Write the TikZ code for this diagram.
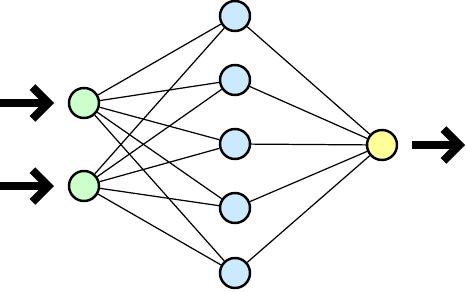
\documentclass[tikz,border=0pt]{standalone}
\usetikzlibrary{arrows.meta}

\definecolor{ingreen}{RGB}{204,255,204}
\definecolor{hidblue}{RGB}{204,234,255}
\definecolor{outyellow}{RGB}{255,255,153}

\tikzset{
    neuron/.style={circle, draw=black, line width=1.4pt, minimum size=0.6cm, inner sep=0pt},
    link/.style={line width=0.7pt},
    bigarrow/.style={line width=4.6pt, -{Straight Barb[length=9pt, width=18pt, line width=4.6pt]}}
}

\begin{document}
\begin{tikzpicture}[x=0.02cm, y=0.02cm]
    \useasboundingbox (0,0) rectangle (466,291);

    % Input layer
    \node[neuron, fill=ingreen] (in1) at (84,188) {};
    \node[neuron, fill=ingreen] (in2) at (84,105) {};

    % Hidden layer
    \foreach \i/\y in {1/275, 2/211, 3/147, 4/83, 5/18}
        \node[neuron, fill=hidblue] (h\i) at (235,\y) {};

    % Output layer
    \node[neuron, fill=outyellow] (out) at (382,146) {};

    % Connections
    \foreach \i in {1,...,5} {
        \draw[link] (in1) -- (h\i);
        \draw[link] (in2) -- (h\i);
        \draw[link] (h\i) -- (out);
    }

    % Input and output arrows
    \coordinate (a1s) at (0,188);
    \coordinate (a1e) at (54,188);
    \coordinate (a2s) at (0,105);
    \coordinate (a2e) at (54,105);
    \coordinate (bs) at (412,146);
    \coordinate (be) at (465,146);
    \draw[bigarrow] (a1s) -- (a1e);
    \draw[bigarrow] (a2s) -- (a2e);
    \draw[bigarrow] (bs) -- (be);
\end{tikzpicture}
\end{document}
